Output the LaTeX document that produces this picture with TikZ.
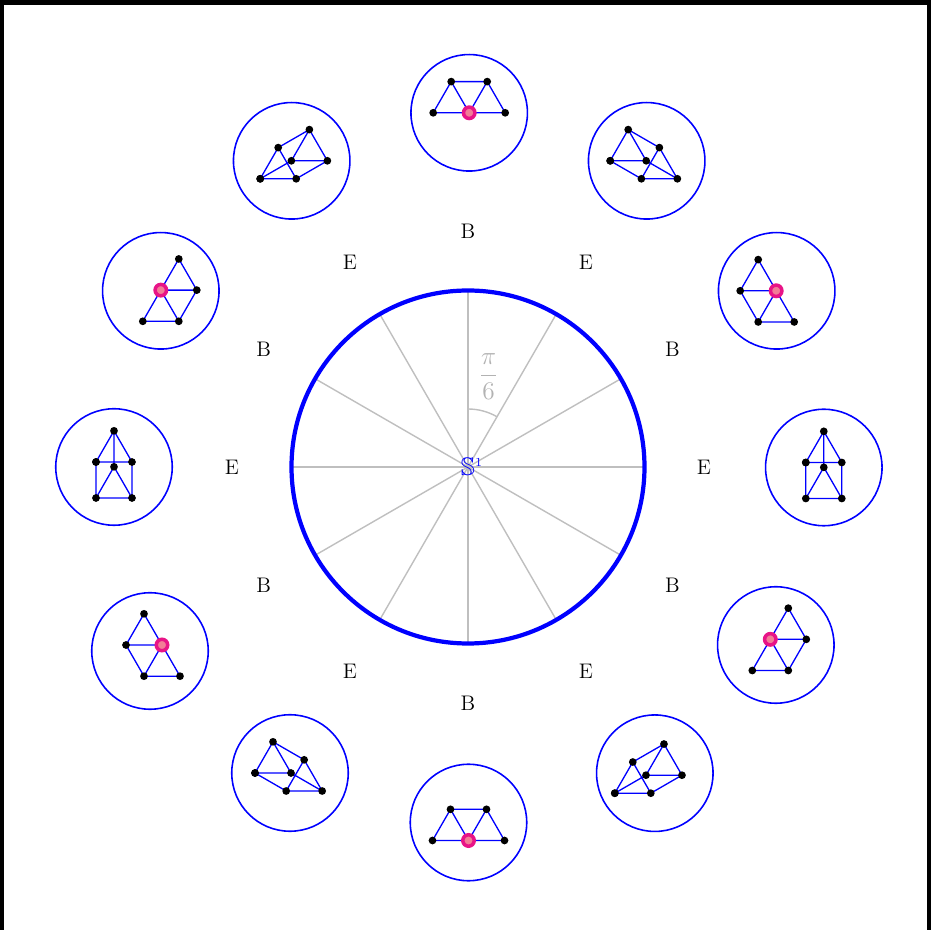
\documentclass[tikz,border=0pt]{standalone}
\usepackage{amsmath,amssymb}
\usepackage{tikz}
\usepackage{xcolor}

\definecolor{ringpink}{RGB}{232,20,135}
\definecolor{fillpink}{RGB}{242,125,150}

\begin{document}
\begin{tikzpicture}[line cap=round,font=\large,
  spoke/.style={gray!50,line width=0.8pt},
  edge/.style={blue,line width=0.75pt},
  ring/.style={circle,draw=blue,line width=0.9pt,minimum size=2.33cm,inner sep=0pt},
  vertex/.style={circle,fill=black,inner sep=0pt,minimum size=4.4pt},
  double/.style={circle,draw=ringpink,fill=fillpink,line width=2pt,inner sep=0pt,minimum size=6.5pt}]
\useasboundingbox (-9.36,-9.26) rectangle (9.26,9.34);
\draw[line width=2.5pt] (-9.33,-10) rectangle (9.22,9.29);
% the loop S^1 and its spokes
\foreach \a in {0,30,...,330}
  \draw[spoke] (0,0) -- (\a:3.52);
\draw[spoke] (90:1.16) arc (90:60:1.16);
\node[text=gray!60,font=\Large] (angle) at (0.41,1.81) {$\dfrac{\pi}{6}$};
\draw[blue,line width=2.4pt] (0,0) circle (3.53);
\node[text=blue,inner sep=0pt,font=\Large] (sone) at (0,0) {$\mathbb{S}$\rlap{\raisebox{2pt}{\normalsize$^1$}}};
% labels round the loop
\foreach \a [count=\i] in {90,30,-30,-90,-150,150}
  \node (b\i) at (\a:4.72) {B};
\foreach \a [count=\i] in {60,0,-60,-120,180,120}
  \node (e\i) at (\a:4.72) {E};
% prism graphs: centre / first vertex / shift angle / marked vertex / style
\foreach \cx/\cy/\ax/\ay/\v/\m/\s [count=\i] in {
  0.024/7.084/-0.72/0.0/0/a2/double,
  3.574/6.124/-0.73/0.0/-30/a1/vertex,
  6.174/3.524/-0.73/0.0/-60/a2/double,
  7.116/-0.01/-0.36/0.1/-90/a1/vertex,
  6.156/-3.56/-0.47/-0.51/60/a3/double,
  3.736/-6.124/-0.80/-0.40/30/a1/vertex,
  0.01/-7.11/-0.72/-0.36/0/a2/double,
  -3.56/-6.12/-0.70/0.0/-30/a1/vertex,
  -6.36/-3.68/-0.48/0.12/-60/a2/double,
  -7.08/0.0/-0.36/0.1/-90/a1/vertex,
  -6.144/3.524/-0.36/-0.61/60/a3/double,
  -3.526/6.124/-0.63/-0.36/30/a1/vertex} {
  \node[ring] (ring\i) at (\cx,\cy) {};
  \path (\cx+\ax,\cy+\ay) coordinate (a1) ++(0.72,0) coordinate (a2) ++(120:0.72) coordinate (a3);
  \path (a1) ++(\v:0.72) coordinate (b1) ++(0.72,0) coordinate (b2) ++(120:0.72) coordinate (b3);
  \draw[edge] (a1) -- (a2) -- (a3) -- cycle (b1) -- (b2) -- (b3) -- cycle
    (a1) -- (b1) (a2) -- (b2) (a3) -- (b3);
  \foreach \p in {a1,a2,a3,b1,b2,b3}
    \node[vertex] at (\p) {};
  \node[\s] (mark\i) at (\m) {};
}
\end{tikzpicture}
\end{document}
